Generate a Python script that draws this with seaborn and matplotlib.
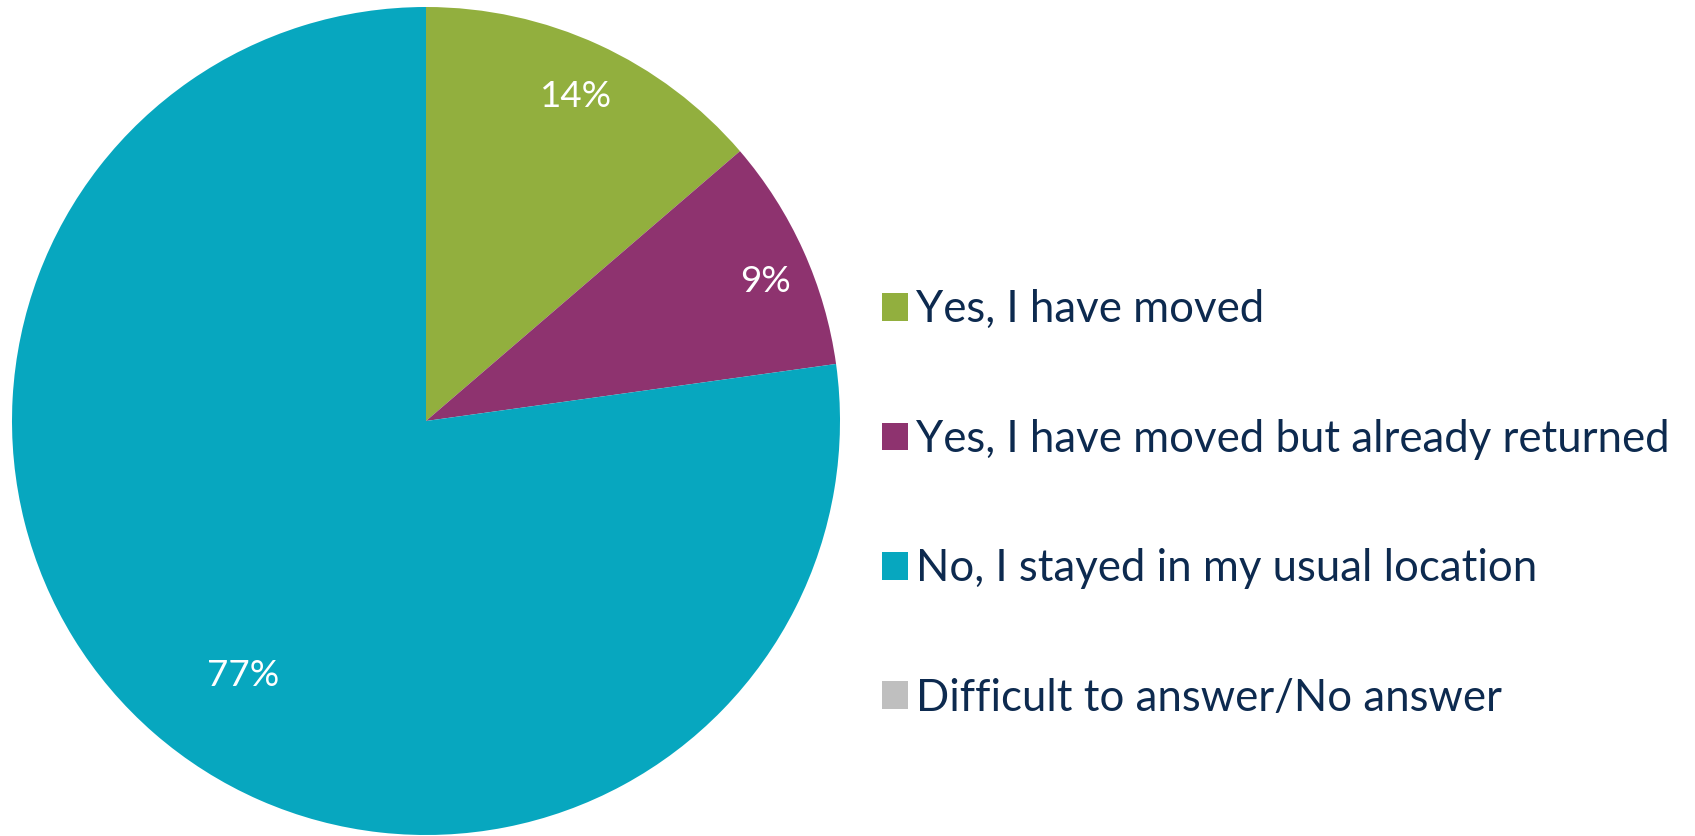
import matplotlib
matplotlib.use("Agg")
from matplotlib import pyplot as plt
import numpy as np
import seaborn as sns

# data
answers = ['Yes, I have moved',
           'Yes, I have moved but already returned',
           'No, I stayed in my usual location',
           'Difficult to answer/No answer']
shares = [13.7, 9.1, 77.2, 0.0]
pct_labels = ['14%', '9%', '77%', '']

sns.set_theme(style='white')
plt.rcParams['font.family'] = ['Lato', 'DejaVu Sans']

colors = sns.color_palette(['#92AF3E', '#8E336F', '#07A7BF', '#BFBFBF'])
textColor = '#0D2A4F'

W, H = 1695, 836
fig = plt.figure(figsize=(W / 100, H / 100), dpi=100)
fig.patch.set_facecolor('white')

# pie axes: centre ~(426, 421), radius ~414 px
cx, cy, r = 426, 421, 414
ax = fig.add_axes([(cx - r) / W, (H - cy - r) / H, 2 * r / W, 2 * r / H])
wedges, _ = ax.pie(shares, colors=colors, startangle=90, counterclock=False,
                   radius=1, wedgeprops={'linewidth': 0})
ax.set_xlim(-1, 1)
ax.set_ylim(-1, 1)
ax.set_aspect('equal')
ax.axis('off')

# percentage labels, roughly at slice middles
dists = [0.87, 0.89, 0.75, 0.8]
shifts = [0, -1.5, 5, 0]
for w, lab, d, s in zip(wedges, pct_labels, dists, shifts):
    mid = np.deg2rad((w.theta1 + w.theta2) / 2 + s)
    if lab:
        ax.text(d * np.cos(mid), d * np.sin(mid), lab, color='white',
                fontsize=26.5, ha='center', va='center_baseline')

leg = fig.legend(wedges, answers, loc='center left',
                 bbox_to_anchor=(882 / W, (H - 504) / H),
                 frameon=False, fontsize=31.5, handlelength=0.6, handleheight=0.6,
                 handletextpad=0.18, labelspacing=2.02, borderpad=0, borderaxespad=0)
for t in leg.get_texts():
    t.set_color(textColor)

fig.savefig('out.png', dpi=100, facecolor='white')
